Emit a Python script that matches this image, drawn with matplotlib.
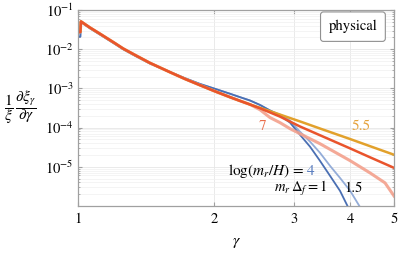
import numpy as np
import matplotlib
matplotlib.use("Agg")
import matplotlib.pyplot as plt

plt.rcParams['font.family'] = ['STIXGeneral', 'DejaVu Serif']
plt.rcParams['mathtext.fontset'] = 'stix'

# shared early part of the spectra (all runs overlap there)
gamma_early = [1.0, 1.012, 1.015, 1.063, 1.1185, 1.207, 1.258, 1.337, 1.443, 1.598, 1.725, 1.861, 2.009, 2.169, 2.282, 2.401]
blue_early = [2.07e-2, 2.09e-2, 4.9e-2, 3.40e-2, 2.36e-2, 1.36e-2, 1.0e-2, 6.81e-3, 4.30e-3, 2.62e-3,
              1.82e-3, 1.30e-3, 9.77e-4, 7.31e-4, 5.98e-4, 4.92e-4]
orange_early = [2.73e-2, 2.75e-2, 5.1e-2, 3.55e-2, 2.47e-2, 1.42e-2, 1.04e-2, 7.1e-3, 4.45e-3, 2.59e-3,
                1.74e-3, 1.21e-3, 8.43e-4, 5.98e-4, 4.81e-4, 3.89e-4]

# log(m_r/H) = 4, m_r Delta_f = 1
g_b1 = [2.527, 2.659, 2.797, 2.944, 3.096, 3.260, 3.428, 3.609, 3.798, 3.956]
v_b1 = [3.78e-4, 2.73e-4, 2.03e-4, 1.34e-4, 6.6e-5, 3.26e-5, 1.43e-5, 5.9e-6, 2.43e-6, 9.4e-7]
# log(m_r/H) = 4, m_r Delta_f = 1.5
g_b2 = [2.527, 2.659, 2.797, 2.944, 3.096, 3.260, 3.428, 3.609, 3.798, 4.0, 4.205]
v_b2 = [3.78e-4, 2.73e-4, 2.15e-4, 1.51e-4, 7.9e-5, 4.38e-5, 2.29e-5, 1.06e-5, 5.2e-6, 2.43e-6, 9.4e-7]
# log(m_r/H) = 7, m_r Delta_f = 1
g_r1 = [2.527, 2.797, 3.096, 3.428, 4.0, 4.424, 5.0]
v_r1 = [3.11e-4, 1.91e-4, 1.07e-4, 6.4e-5, 2.94e-5, 1.75e-5, 9.4e-6]
# log(m_r/H) = 7, m_r Delta_f = 1.5
g_r2 = [2.527, 2.659, 2.797, 2.944, 3.096, 3.428, 4.0, 4.424, 4.776, 5.0]
v_r2 = [2.85e-4, 1.80e-4, 1.34e-4, 9.4e-5, 7.0e-5, 3.89e-5, 1.43e-5, 7.0e-6, 3.89e-6, 1.80e-6]
# log(m_r/H) = 5.5
g_y = [2.527, 2.797, 3.096, 3.428, 4.0, 4.424, 5.0]
v_y = [3.2e-4, 2.15e-4, 1.44e-4, 9.5e-5, 5.1e-5, 3.36e-5, 2.03e-5]

c_blue = '#4a6fb3'
c_lblue = '#93acd8'
c_red = '#e9542c'
c_salmon = '#f3a08c'
c_yellow = '#e2a12c'

fig = plt.figure(figsize=(3.99, 2.54), dpi=100)
ax = fig.add_axes([0.1955, 0.189, 0.792, 0.7716])

ax.plot(gamma_early + g_b2, blue_early + v_b2, color=c_lblue, lw=1.3)
ax.plot(gamma_early + g_b1, blue_early + v_b1, color=c_blue, lw=1.3)
ax.plot(gamma_early + g_r2, orange_early + v_r2, color=c_salmon, lw=2.2, alpha=0.9)
ax.plot(gamma_early + g_y, orange_early + v_y, color=c_yellow, lw=1.8)
ax.plot(gamma_early + g_r1, orange_early + v_r1, color=c_red, lw=1.8)

ax.set_xscale('log')
ax.set_yscale('log')
ax.set_xlim(1, 5)
ax.set_ylim(1e-6, 1e-1)
ax.set_xticks([1, 2, 3, 4, 5])
ax.set_xticklabels(['1', '2', '3', '4', '5'])
ax.xaxis.set_minor_formatter(matplotlib.ticker.NullFormatter())
ax.set_yticks([1e-5, 1e-4, 1e-3, 1e-2, 1e-1])
ax.yaxis.set_minor_locator(matplotlib.ticker.LogLocator(base=10, subs=np.arange(2, 10) * 1.0, numticks=20))

ax.grid(True, which='major', color='#e6e6e6', lw=0.6)
ax.grid(True, which='minor', color='#f0f0f0', lw=0.5)
ax.set_axisbelow(True)
for s in ax.spines.values():
    s.set_color('#a0a0a0')
    s.set_linewidth(0.9)
ax.tick_params(which='both', direction='in', top=True, right=True, color='#a0a0a0',
               labelsize=10.5, pad=3)
ax.tick_params(axis='x', pad=5)
ax.tick_params(which='major', length=3)
ax.tick_params(which='minor', length=1.6)

ax.set_xlabel(r'$\gamma$', fontsize=11.5, labelpad=7)
fig.text(20 / 399, 1 - 107 / 254, r'$\dfrac{1}{\xi}\,\dfrac{\partial \xi_\gamma}{\partial \gamma}$',
         fontsize=11, ha='center', va='center')

ax.text(0.87, 0.915, 'physical', transform=ax.transAxes, ha='center', va='center', fontsize=10.5,
        bbox=dict(boxstyle='round,pad=0.55,rounding_size=0.2', fc='white', ec='#909090', lw=0.8))


def ftxt(px, py, s, **kw):
    fig.text(px / 399, 1 - py / 254, s, va='center', **kw)


ftxt(262, 126, '7', color='#ea6e4c', fontsize=11, ha='center')
ftxt(361, 126, '5.5', color='#e6a33e', fontsize=11, ha='center')
ftxt(305, 171, r'$\log(m_r/H)\,=$', fontsize=11, ha='right')
ftxt(311, 171, '4', color='#5a7dbf', fontsize=11, ha='center')
ftxt(327, 188, r'$m_r\,\Delta_f = 1$', fontsize=10.5, ha='right')
ftxt(354, 188, '1.5', fontsize=10.5, ha='center')

fig.savefig('out.png', dpi=100)
